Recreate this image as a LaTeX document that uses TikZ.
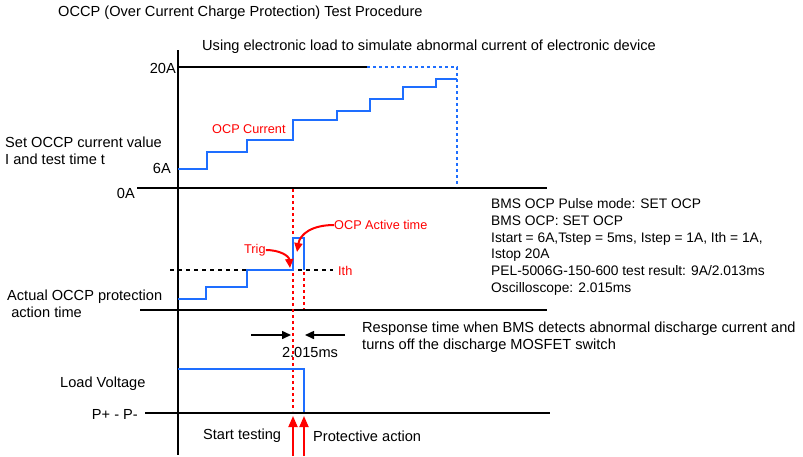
\documentclass[tikz,border=0pt]{standalone}
\usepackage{fontspec}
\setmainfont{Liberation Sans}
\usetikzlibrary{arrows.meta}
\definecolor{myblue}{RGB}{30,110,255}
\definecolor{myred}{RGB}{255,0,0}
\begin{document}
\begin{tikzpicture}[x=1pt,y=-1pt,
  txt/.style={anchor=west,inner sep=0pt,font=\fontsize{14.6}{16.7}\selectfont},
  itxt/.style={anchor=west,inner sep=0pt,font=\fontsize{13.8}{16.7}\selectfont},
  rtxt/.style={anchor=west,inner sep=0pt,font=\fontsize{12.7}{15}\selectfont,text=myred},
  axis/.style={line width=2pt,black},
  sig/.style={line width=2pt,myblue},
  reddot/.style={line width=2pt,myred,dash pattern=on 3pt off 3pt},
  blkdash/.style={line width=1.8pt,black,dash pattern=on 4pt off 4pt},
  bluedot/.style={line width=1.8pt,myblue,dash pattern=on 3pt off 3pt},
  dimarr/.style={line width=1.5pt,-{Triangle[length=9pt,width=8pt]}},
  redarr/.style={line width=1.8pt,myred,-{Triangle[length=11pt,width=9pt]}},
  curvarr/.style={line width=2pt,myred,-{Triangle[length=9pt,width=8pt]}}]
\useasboundingbox (0,0) rectangle (803,456);
% title and labels
\node[txt] (title) at (58,13) {OCCP (Over Current Charge Protection) Test Procedure};
\node[txt] (using) at (202,47) {Using electronic load to simulate abnormal current of electronic device};
\node[txt,anchor=east] (l20) at (176,68) {20A};
\node[txt,anchor=east] (l6) at (171,168) {6A};
\node[txt,anchor=east] (l0) at (135,193) {0A};
\node[txt,align=left] (setl) at (5,151) {Set OCCP current value\\I and test time t};
\node[rtxt] (ocpc) at (212,129) {OCP Current};
\node[txt,align=left] (actl) at (7,304) {Actual OCCP protection\\\ action time};
\node[txt] (loadv) at (60,384) {Load Voltage};
\node[txt,anchor=east] (pp) at (138,414) {P+ - P-};
% axes
\coordinate (ax0) at (178,50);
\coordinate (ax1) at (178,455);
\draw[axis] (ax0) -- (ax1);
\coordinate (h20a) at (178,67); \coordinate (h20b) at (367,67);
\draw[axis] (h20a) -- (h20b);
\coordinate (h0a) at (137,188); \coordinate (h0b) at (547,188);
\draw[axis] (h0a) -- (h0b);
\coordinate (h2a) at (140,310); \coordinate (h2b) at (547,310);
\draw[axis] (h2a) -- (h2b);
\coordinate (h3a) at (145,413); \coordinate (h3b) at (550,413);
\draw[axis] (h3a) -- (h3b);
% top staircase
\coordinate (s0) at (178,169);
\draw[sig] (s0) -- (207,169) -- (207,152) -- (247,152) -- (247,140) -- (293,140) -- (293,120) -- (337,120) -- (337,111) -- (370,111) -- (370,99) -- (403,99) -- (403,87) -- (436,87) -- (436,79) -- (457,79);
\coordinate (bd0) at (367,67); \coordinate (bd1) at (457,67); \coordinate (bd2) at (457,187);
\draw[bluedot] (bd0) -- (bd1) -- (bd2);
% second panel
\coordinate (ith0) at (170,270); \coordinate (ith1) at (333,270);
\draw[blkdash] (ith0) -- (ith1);
\node[rtxt] (ith) at (338,271) {Ith};
\coordinate (rd0) at (292.5,189); \coordinate (rd1) at (292.5,411);
\draw[reddot] (rd0) -- (rd1);
\coordinate (rd2) at (304,272); \coordinate (rd3) at (304,309);
\draw[reddot] (rd2) -- (rd3);
\draw[sig] (178,299) -- (206,299) -- (206,287) -- (247,287) -- (247,270) -- (293,270) -- (293,238) -- (304,238) -- (304,270);
\node[rtxt] (trig) at (244,250) {Trig};
\node[rtxt] (oat) at (334,225) {OCP Active time};
\coordinate (trigtip) at (290,268);
\coordinate (oattip) at (297,252);
\draw[curvarr] (trig.east) .. controls (280,250) and (289,256) .. (trigtip);
\draw[curvarr] (oat.west) .. controls (312,225) and (300,234) .. (oattip);
\node[itxt,align=left] (info) at (491,247) {BMS OCP Pulse mode: SET OCP\\BMS OCP: SET OCP\\Istart = 6A,Tstep = 5ms, Istep = 1A, Ith = 1A,\\Istop 20A\\PEL-5006G-150-600 test result: 9A/2.013ms\\Oscilloscope: 2.015ms};
% third panel
\coordinate (da0) at (251,335); \coordinate (da1) at (291,335);
\coordinate (db0) at (345,335); \coordinate (db1) at (305,335);
\draw[dimarr] (da0) -- (da1);
\draw[dimarr] (db0) -- (db1);
\node[txt,anchor=center] (ms) at (310,352) {2.015ms};
\node[txt,align=left] (resp) at (362,337) {Response time when BMS detects abnormal discharge current and\\turns off the discharge MOSFET switch};
\draw[sig] (178,369) -- (304,369) -- (304,412);
\coordinate (ra0) at (293,456); \coordinate (ra1) at (293,416);
\coordinate (rb0) at (304,456); \coordinate (rb1) at (304,416);
\draw[redarr] (ra0) -- (ra1);
\draw[redarr] (rb0) -- (rb1);
\node[txt] (st) at (203,436) {Start testing};
\node[txt] (pa) at (313,436) {Protective action};
\end{tikzpicture}
\end{document}
